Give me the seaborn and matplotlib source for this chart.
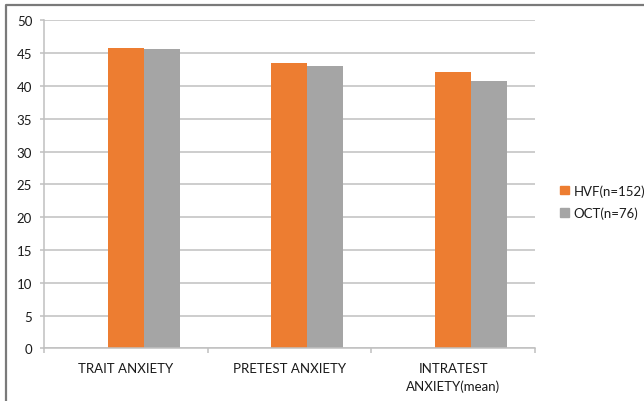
import matplotlib
matplotlib.use("Agg")
import matplotlib.pyplot as plt
import matplotlib.patches as mpatches
import matplotlib.lines as mlines
import pandas as pd
import seaborn as sns

categories = ["TRAIT ANXIETY", "PRETEST ANXIETY", "INTRATEST\nANXIETY(mean)"]
hvf_values = [45.8, 43.5, 42.1]
oct_values = [45.6, 43.1, 40.7]
series = ["", "HVF(n=152)", "OCT(n=76)"]  # first series is empty, as in the source
colors = ["white", "#ED7D31", "#A5A5A5"]

df = pd.DataFrame({
    "category": categories * 3,
    "series": [series[0]] * 3 + [series[1]] * 3 + [series[2]] * 3,
    "value": [float("nan")] * 3 + hvf_values + oct_values,
})

sns.set_style("white")
plt.rcParams["font.family"] = ["Lato", "DejaVu Sans"]
text_color = "#1a1a1a"

fig = plt.figure(figsize=(6.44, 4.02), dpi=100)
ax = fig.add_axes([0.0683, 0.1306, 0.7624, 0.8164])

sns.barplot(data=df, x="category", y="value", hue="series", hue_order=series,
            palette=colors, width=0.66, gap=0, ax=ax, legend=False,
            linewidth=0, errorbar=None, saturation=1)

ax.set_ylim(0, 50)
ax.set_yticks(range(0, 51, 5))
ax.set_xlim(-0.5, 2.5)
ax.yaxis.grid(True, color="#C0C0C0", linewidth=1.1)
ax.set_axisbelow(True)
ax.set_xlabel("")
ax.set_ylabel("")

for side in ["top", "right"]:
    ax.spines[side].set_visible(False)
for side in ["left", "bottom"]:
    ax.spines[side].set_color("#C0C0C0")
    ax.spines[side].set_linewidth(1.1)

# category boundary ticks on the x axis
ax.set_xticks([0, 1, 2])
ax.set_xticks([-0.5, 0.5, 1.5, 2.5], minor=True)
ax.tick_params(axis="x", which="major", length=0, pad=10, labelsize=9.5, colors=text_color)
ax.tick_params(axis="x", which="minor", length=3.5, width=1.1, color="#C0C0C0",
               direction="out", bottom=True)
ax.tick_params(axis="y", length=3, width=1.1, color="#C0C0C0", direction="out", left=True,
               labelsize=9.5, colors=text_color, pad=5.5)
for lab in ax.get_xticklabels():
    lab.set_linespacing(1.45)

handles = [mpatches.Patch(color=colors[1], label=series[1]),
           mpatches.Patch(color=colors[2], label=series[2])]
leg = fig.legend(handles=handles, loc="center left", bbox_to_anchor=(0.862, 0.496),
                 frameon=False, fontsize=9.5, handlelength=0.65, handleheight=0.65,
                 handletextpad=0.35, labelspacing=0.75, borderaxespad=0)
for t in leg.get_texts():
    t.set_color(text_color)

# frame on the left and top edge of the figure
fig.lines.append(mlines.Line2D([0.0093, 0.0093, 1.0], [0.0, 0.985, 0.985],
                               transform=fig.transFigure, color="#7A7A7A", linewidth=1.6))

fig.savefig("out.png", dpi=100)
